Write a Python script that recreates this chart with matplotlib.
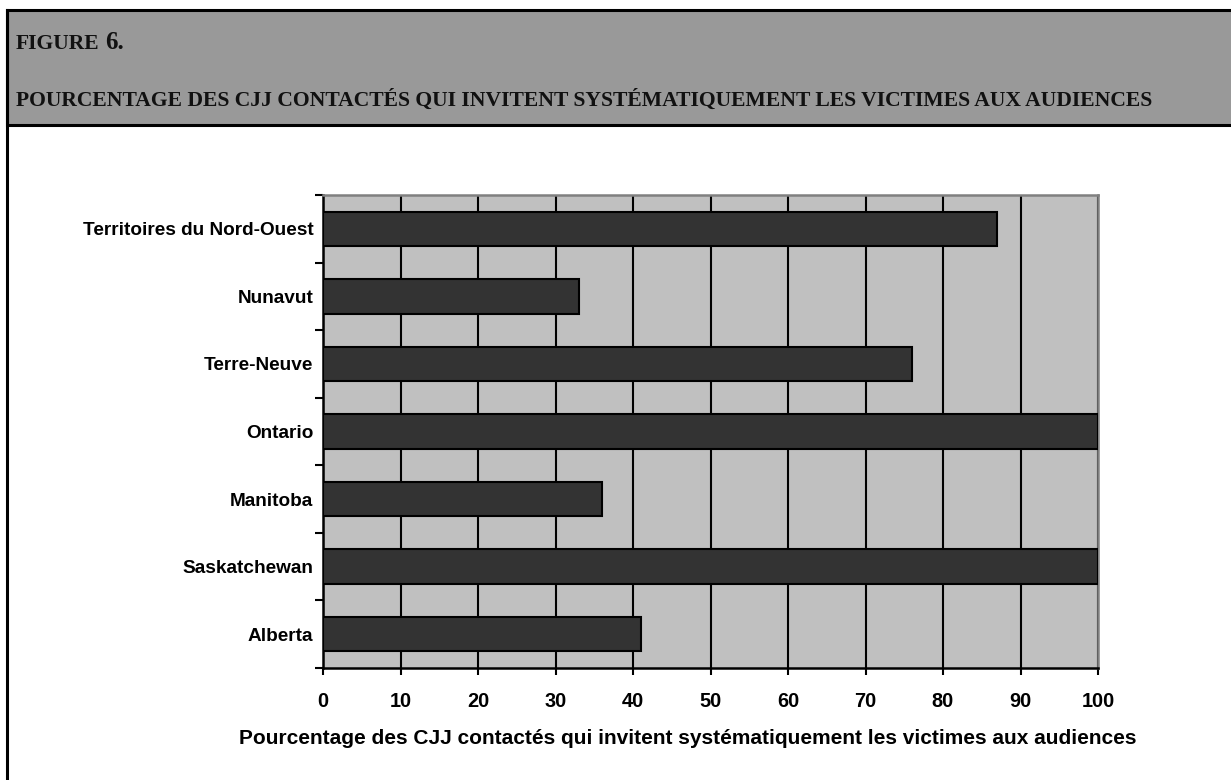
import matplotlib
matplotlib.use("Agg")
import matplotlib.pyplot as plt
from matplotlib.patches import Rectangle
from matplotlib.lines import Line2D
import numpy as np

# Data (bottom to top)
provinces = ["Alberta", "Saskatchewan", "Manitoba", "Ontario",
             "Terre-Neuve", "Nunavut", "Territoires du Nord-Ouest"]
pourcentages = [41, 100, 36, 100, 76, 33, 87]
x_ticks = [0, 10, 20, 30, 40, 50, 60, 70, 80, 90, 100]

titre_fig = "FIGURE"
numero_fig = "6."
titre = "POURCENTAGE DES CJJ CONTACTÉS QUI INVITENT SYSTÉMATIQUEMENT LES VICTIMES AUX AUDIENCES"
xlabel = "Pourcentage des CJJ contactés qui invitent systématiquement les victimes aux audiences"

W, H = 1231, 780
fig = plt.figure(figsize=(W / 100, H / 100), dpi=100)
fig.patch.set_facecolor("white")


def fx(x):
    return x / W


def fy(y):
    return 1 - y / H


# Header band and page frame
fig.patches.append(Rectangle((fx(7), fy(125)), fx(1240) - fx(7), fy(10) - fy(125),
                             transform=fig.transFigure, facecolor="#999999",
                             edgecolor="black", linewidth=2.2, zorder=1))
fig.lines.append(Line2D([fx(7), fx(7)], [fy(10), fy(790)], transform=fig.transFigure,
                        color="black", linewidth=2.2, zorder=2))

serif = ["Liberation Serif", "DejaVu Serif"]
sans = ["Liberation Sans", "DejaVu Sans"]

t1 = fig.text(fx(16), fy(49), titre_fig, family=serif, weight="bold", fontsize=15.6,
              va="baseline", ha="left", color="#111111")
fig.canvas.draw()
bb = t1.get_window_extent()
fig.text(bb.x1 / W + fx(5), fy(49), numero_fig, family=serif, weight="bold", fontsize=18,
         va="baseline", ha="left", color="#111111")
fig.text(fx(16), fy(106), titre, family=serif, weight="bold", fontsize=15.6,
         va="baseline", ha="left", color="#111111")

# Chart area
ax = fig.add_axes([fx(323), fy(668), fx(1098) - fx(323), fy(195) - fy(668)])
ax.set_facecolor("#c0c0c0")
y = np.arange(len(provinces))
ax.barh(y, pourcentages, height=0.51, color="#333333", edgecolor="black",
        linewidth=1.5, zorder=3)

ax.set_xlim(0, 100)
ax.set_ylim(-0.5, len(provinces) - 0.5)
ax.set_xticks(x_ticks)
ax.set_xticklabels([str(v) for v in x_ticks], family=sans, weight="bold", fontsize=14.4)
ax.set_yticks(y)
ax.set_yticklabels(provinces, family=sans, weight="bold", fontsize=13.7)
ax.set_yticks(np.arange(-0.5, len(provinces)), minor=True)

ax.tick_params(axis="y", which="major", length=0, pad=7)
ax.tick_params(axis="y", which="minor", length=6, width=1.5, direction="out", color="black")
ax.tick_params(axis="x", which="major", length=5, width=1.5, direction="out", color="black", pad=12)

ax.grid(axis="x", color="black", linewidth=1.5, zorder=1)
ax.set_axisbelow(True)

for side in ("left", "bottom"):
    ax.spines[side].set_color("black")
    ax.spines[side].set_linewidth(1.8)
for side in ("top", "right"):
    ax.spines[side].set_color("#808080")
    ax.spines[side].set_linewidth(1.8)

fig.text(fx(688), fy(738), xlabel, family=sans, weight="bold", fontsize=15.0,
         ha="center", va="center", color="black")

fig.savefig("out.png", dpi=100)
